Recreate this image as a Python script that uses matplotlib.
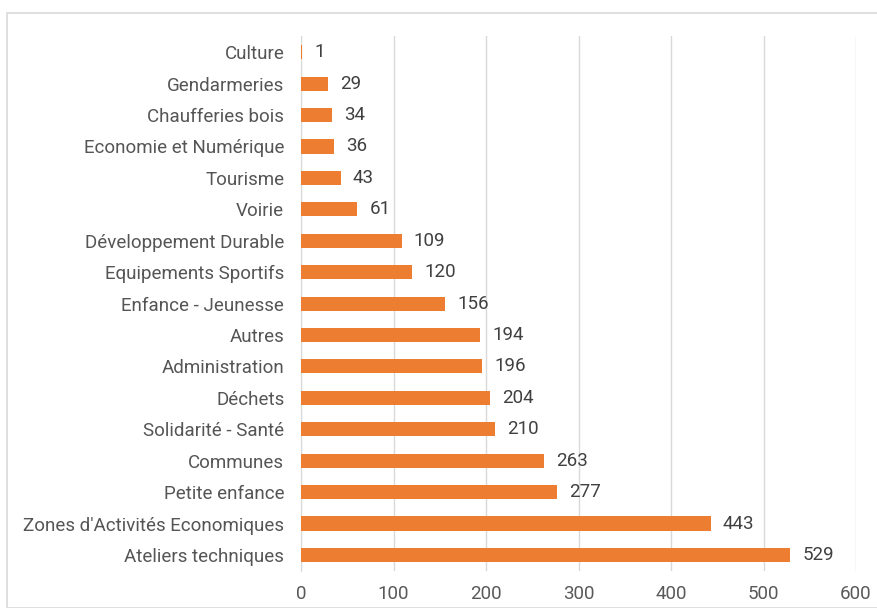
import matplotlib.pyplot as plt
from matplotlib.patches import Rectangle

categories = ["Culture", "Gendarmeries", "Chaufferies bois", "Economie et Numérique",
              "Tourisme", "Voirie", "Développement Durable", "Equipements Sportifs",
              "Enfance - Jeunesse", "Autres", "Administration", "Déchets",
              "Solidarité - Santé", "Communes", "Petite enfance",
              "Zones d'Activités Economiques", "Ateliers techniques"]
values = [1, 29, 34, 36, 43, 61, 109, 120, 156, 194, 196, 204, 210, 263, 277, 443, 529]
xticks = [0, 100, 200, 300, 400, 500, 600]

plt.rcParams['font.family'] = ['Roboto', 'DejaVu Sans']

fig = plt.figure(figsize=(8.77, 6.08), dpi=100)
fig.patches.append(Rectangle((7 / 877, 0), 1.0, 1 - 13 / 608, transform=fig.transFigure,
                             fill=False, edgecolor='#d9d9d9', linewidth=1.2))
ax = fig.add_axes([301 / 877, 0.0614, (856 - 301) / 877, 0.940 - 0.0614])

ypos = list(range(len(categories)))
ax.barh(ypos, values, height=0.45, color='#ED7D31', zorder=3)
for y, v in zip(ypos, values):
    ax.text(v + 13, y, str(v), va='center', ha='left', fontsize=13.5, color='#404040')

ax.set_yticks(ypos)
ax.set_yticklabels(categories, fontsize=13.5, color='#555555')
ax.set_ylim(len(categories) - 0.5, -0.5)
ax.set_xlim(0, 600)
ax.set_xticks(xticks)
ax.set_xticklabels([str(t) for t in xticks], fontsize=13.5, color='#595959')
ax.tick_params(axis='both', length=0)
ax.tick_params(axis='x', pad=10)
ax.tick_params(axis='y', pad=12)
ax.grid(axis='x', color='#d9d9d9', linewidth=1, zorder=0)
for s in ['top', 'right', 'bottom']:
    ax.spines[s].set_visible(False)
ax.spines['left'].set_color('#d9d9d9')

fig.savefig('out.png', dpi=100)
